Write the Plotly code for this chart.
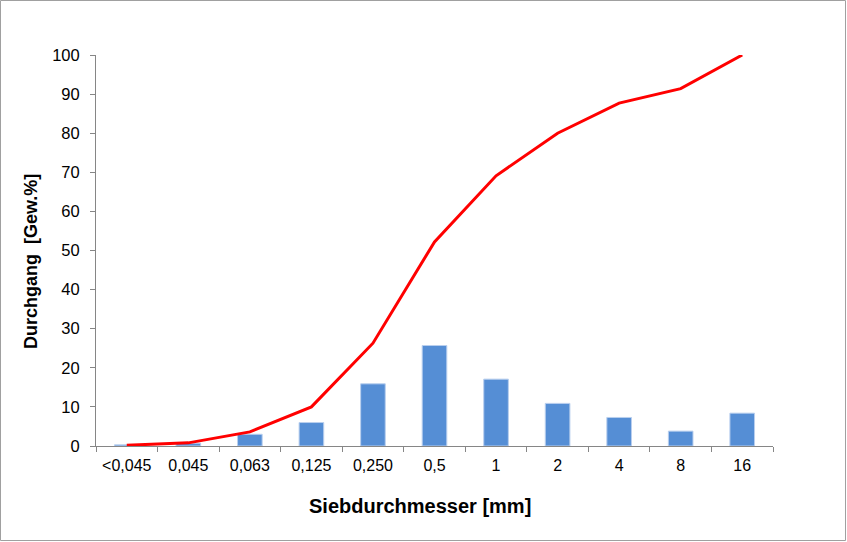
import plotly.graph_objects as go

categories = ["<0,045", "0,045", "0,063", "0,125", "0,250", "0,5", "1", "2", "4", "8", "16"]
bar_values = [0.3, 0.7, 3.0, 6.0, 15.9, 25.7, 17.1, 10.9, 7.3, 3.8, 8.4]
line_values = [0.2, 0.8, 3.6, 10.0, 26.3, 52.2, 69.1, 80.0, 87.7, 91.4, 100.0]
y_ticks = list(range(0, 101, 10))

FONT = "Liberation Sans, Arial, sans-serif"

fig = go.Figure()
fig.add_trace(go.Bar(
    x=categories, y=bar_values,
    marker=dict(color="#558ED5", line=dict(color="#B9CFEE", width=1)),
    width=0.4, showlegend=False,
))
fig.add_trace(go.Scatter(
    x=categories, y=line_values, mode="lines",
    line=dict(color="#FF0000", width=3), showlegend=False,
))

W, H = 847, 542
l, r, t, b = 96, 74, 55, 96
pw, ph = W - l - r, H - t - b

def px_x(x):
    return (x - l) / pw

def px_y(y):
    return (H - b - y) / ph

fig.update_layout(
    width=W, height=H,
    margin=dict(l=l, r=r, t=t, b=b),
    paper_bgcolor="white", plot_bgcolor="white",
    font=dict(family=FONT, size=16, color="#000"),
    xaxis=dict(
        type="category", tickson="boundaries",
        showline=True, linecolor="#868686", linewidth=1,
        ticks="outside", ticklen=5, tickcolor="#868686",
        showgrid=False, zeroline=False,
        tickfont=dict(size=16), ticklabelstandoff=5,
    ),
    yaxis=dict(
        range=[0, 100], tickvals=y_ticks,
        showline=True, linecolor="#868686", linewidth=1,
        ticks="outside", ticklen=5, tickcolor="#868686",
        showgrid=False, zeroline=False,
        tickfont=dict(size=16.5), ticklabelstandoff=7,
    ),
    annotations=[
        dict(text="<b>Siebdurchmesser [mm]</b>", xref="paper", yref="paper",
             x=px_x(420), y=px_y(506), showarrow=False,
             xanchor="center", yanchor="middle", font=dict(size=20, color="#000")),
        dict(text="<b>Durchgang  [Gew.%]</b>", xref="paper", yref="paper",
             x=px_x(31), y=px_y(262), showarrow=False, textangle=-90,
             xanchor="center", yanchor="middle", font=dict(size=18, color="#000")),
    ],
    shapes=[dict(
        type="rect", xref="paper", yref="paper",
        x0=-(l - 0.5) / pw, x1=1 + (r - 1.5) / pw,
        y0=-(b - 1.5) / ph, y1=1 + (t - 0.5) / ph,
        line=dict(color="#A0A0A0", width=1),
    )],
)

fig.write_html("out.html", config={"displayModeBar": False},
               post_script="document.body.style.margin='0';document.body.style.padding='0';")
